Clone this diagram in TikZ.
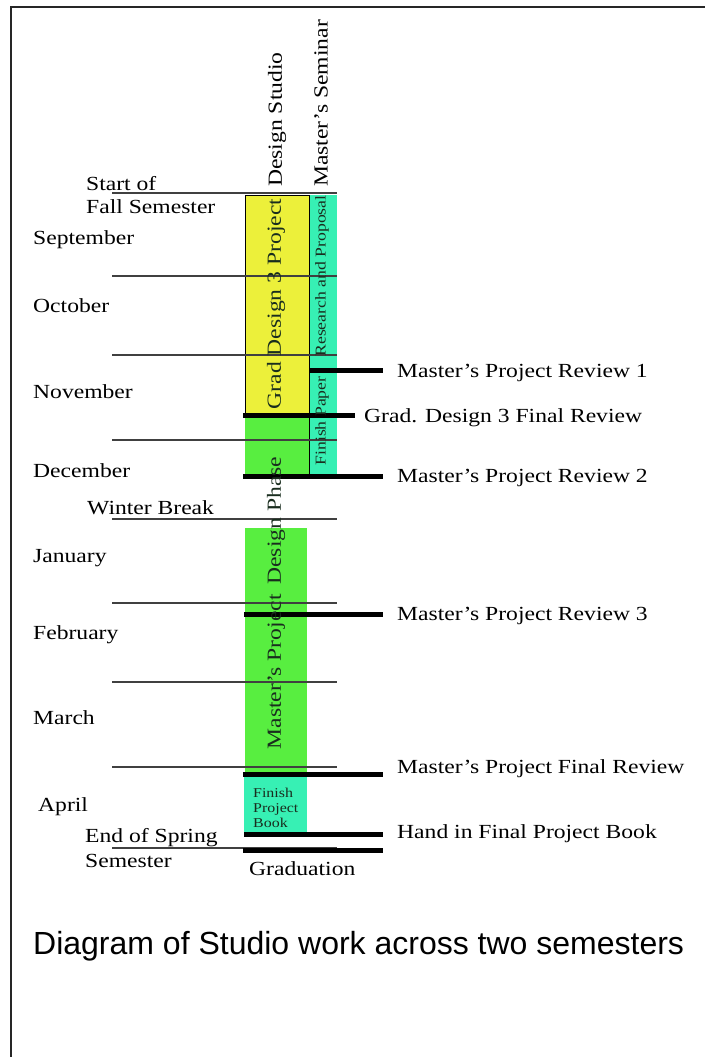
\documentclass[tikz,border=0pt]{standalone}
\usepackage{fontspec}
\setmainfont{Liberation Serif}
\newfontfamily\capfont{Liberation Sans}
\newcommand{\sx}[1]{\scalebox{1.18}[1]{#1}}
\definecolor{yel}{RGB}{236,240,58}
\definecolor{grn}{RGB}{88,238,64}
\definecolor{aqua}{RGB}{55,240,180}
\definecolor{inktxt}{RGB}{25,45,30}
\begin{document}
\begin{tikzpicture}[x=1pt,y=-1pt,
  lbl/.style={inner sep=0pt, anchor=base west, font=\fontsize{20}{23}\selectfont},
  rot/.style={inner sep=0pt, rotate=90, font=\fontsize{20}{23}\selectfont},
  smallrot/.style={inner sep=0pt, rotate=90, font=\fontsize{15}{17}\selectfont, text=inktxt},
  monthline/.style={draw=black!75, line width=1.1pt},
  milestone/.style={draw=black, line width=5pt},
  frameline/.style={draw=black!85, line width=2pt}
]
\fill[white] (0,0) rectangle (705,1057);
\useasboundingbox (0,0) rectangle (705,1057);

% frame
\coordinate (fL) at (11,1057);
\coordinate (fC) at (11,7);
\coordinate (fR) at (705,7);
\draw[frameline] (fL) -- (fC) -- (fR);

% coloured bars
\fill[yel] (245,195) rectangle (309,415);
\fill[grn] (245,415) rectangle (309,476);
\fill[aqua] (309,195) rectangle (337,476);
\fill[grn] (245,528) rectangle (307,774);
\fill[aqua] (244,774) rectangle (307,834);
\draw[black, line width=1pt] (245,415) -- (245,195) -- (309,195) -- (309,476);

% month divider lines
\foreach \yy/\nm in {193/a,276/b,355/c,440/d,519/e,603/f,682/g,767/h,848/i}{
  \coordinate (ml\nm) at (112,\yy);
  \coordinate (mr\nm) at (337,\yy);
  \draw[monthline] (ml\nm) -- (mr\nm);
}

% milestone bars
\coordinate (r1a) at (310,370); \coordinate (r1b) at (383,370);
\coordinate (gda) at (243,415); \coordinate (gdb) at (355,415);
\coordinate (r2a) at (243,476); \coordinate (r2b) at (383,476);
\coordinate (r3a) at (244,614); \coordinate (r3b) at (383,614);
\coordinate (rfa) at (243,774); \coordinate (rfb) at (383,774);
\coordinate (hia) at (244,834); \coordinate (hib) at (383,834);
\coordinate (gra) at (243,850); \coordinate (grb) at (383,850);
\foreach \p in {r1,gd,r2,r3,rf,hi,gr}{\draw[milestone] (\p a) -- (\p b);}

% column headings
\node[rot, anchor=west] (dstudio) at (277,187) {\sx{Design Studio}};
\node[rot, anchor=west] (mseminar) at (321,187) {\sx{Master’s Seminar}};

% texts in bars
\node[rot, text=inktxt] (gd3) at (276,304) {\sx{Grad Design 3 Project}};
\node[smallrot] (rp) at (322,276) {\sx{Research and Proposal}};
\node[smallrot] (fp) at (322,421) {\sx{Finish Paper}};
\node[rot, text=inktxt] (mpd) at (276,603) {\sx{Master’s Project\, Design Phase}};
\node[inner sep=0pt, anchor=north west, align=left, text=inktxt,
      font=\fontsize{13.5}{15}\selectfont] (fpb) at (253,788)
      {\sx{Finish}\\\sx{Project}\\\sx{Book}};

% left labels
\node[lbl] (start1) at (86,190) {\sx{Start of}};
\node[lbl] (start2) at (86,213) {\sx{Fall Semester}};
\node[lbl] (sep) at (33,244) {\sx{September}};
\node[lbl] (oct) at (33,312) {\sx{October}};
\node[lbl] (nov) at (33,398) {\sx{November}};
\node[lbl] (dec) at (33,477) {\sx{December}};
\node[lbl] (wb) at (87,514) {\sx{Winter Break}};
\node[lbl] (jan) at (33,562) {\sx{January}};
\node[lbl] (feb) at (33,639) {\sx{February}};
\node[lbl] (mar) at (33,724) {\sx{March}};
\node[lbl] (apr) at (38,811) {\sx{April}};
\node[lbl] (end1) at (85,842) {\sx{End of Spring}};
\node[lbl] (end2) at (85,867) {\sx{Semester}};
\node[lbl] (grad) at (249,875) {\sx{Graduation}};

% right labels
\node[lbl] (t1) at (397,377) {\sx{Master’s Project Review 1}};
\node[lbl] (t2) at (364,422) {\sx{Grad. Design 3 Final Review}};
\node[lbl] (t3) at (397,482) {\sx{Master’s Project Review 2}};
\node[lbl] (t4) at (397,620) {\sx{Master’s Project Review 3}};
\node[lbl] (t5) at (397,773) {\sx{Master’s Project Final Review}};
\node[lbl] (t6) at (397,838) {\sx{Hand in Final Project Book}};

% caption
\node[inner sep=0pt, anchor=base west, font=\capfont\fontsize{32}{36}\selectfont] (cap) at (33,954)
  {Diagram of Studio work across two semesters};
\end{tikzpicture}
\end{document}
